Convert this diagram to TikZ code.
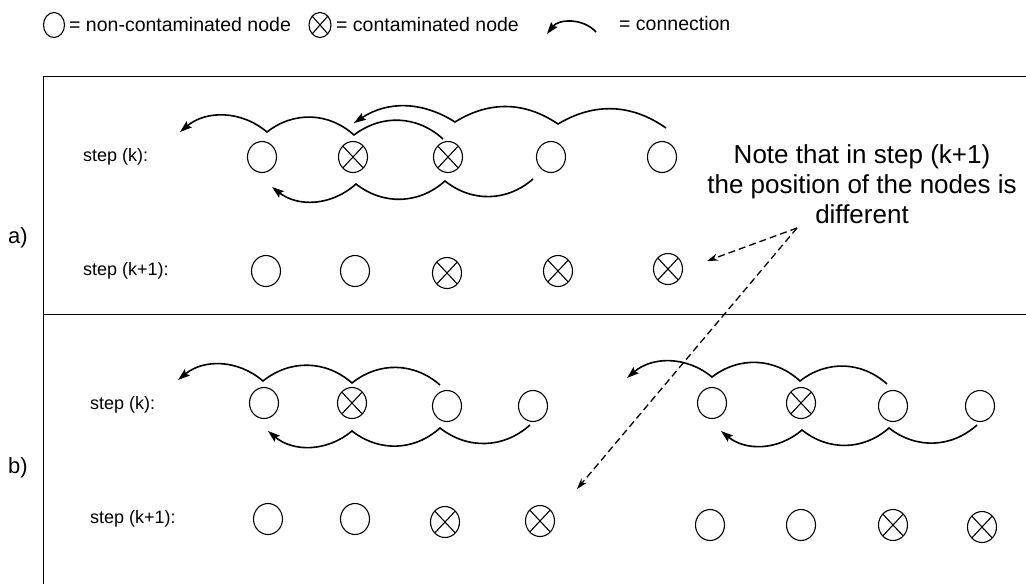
\documentclass[tikz,border=0pt]{standalone}
\usepackage{fontspec}
\setmainfont{Liberation Sans}
\usetikzlibrary{shapes.geometric, arrows.meta}

\begin{document}
\begin{tikzpicture}[x=1pt, y=-1pt,
        % Define styles for the two kinds of nodes
        clean/.style={draw, ellipse, line width=1.1pt, minimum width=29pt, minimum height=31pt, inner sep=0pt},
        infected/.style={clean, path picture={\draw[line width=1.1pt]
            (path picture bounding box.north west) -- (path picture bounding box.south east)
            (path picture bounding box.north east) -- (path picture bounding box.south west);}},
        % Connections and hints
        link/.style={line width=1.6pt, {Stealth[length=12pt, width=8pt, inset=2pt]}-},
        hint/.style={line width=1.3pt, dash pattern=on 7pt off 4pt, -{Stealth[length=11pt, width=7pt]}},
        lbl/.style={anchor=west, inner sep=0pt, font=\fontsize{18}{22}\selectfont},
        legtxt/.style={anchor=west, inner sep=0pt, font=\fontsize{19.5}{24}\selectfont}]

        \useasboundingbox (0,0) rectangle (1026,584);

        % 1. Legend
        \node[clean, minimum width=21pt, minimum height=25pt] (legclean) at (54,25) {};
        \node[legtxt] (legcleantxt) at (69,25) {= non-contaminated node};
        \node[infected, minimum width=22pt, minimum height=25pt] (leginf) at (320,25) {};
        \node[legtxt] (leginftxt) at (336,25) {= contaminated node};
        \coordinate (legS) at (547,34);
        \coordinate (legE) at (596,32);
        \draw[link] (legS) to[bend left=50] (legE);
        \node[legtxt] (leglinktxt) at (619,24) {= connection};

        % 2. Frame of the two cases
        \draw[line width=1pt] (1026,76) -- (43,76) -- (43,584);
        \draw[line width=1pt] (43,314) -- (1026,314);
        \node[anchor=west, inner sep=0pt, font=\fontsize{22}{26}\selectfont] (casea) at (8,238) {a)};
        \node[anchor=west, inner sep=0pt, font=\fontsize{22}{26}\selectfont] (caseb) at (8,468) {b)};

        % 3. Case a), step (k)
        \node[lbl] (ak) at (83,157) {step (k):};
        \node[clean] (A1) at (262,157) {};
        \node[infected] (A2) at (353,157) {};
        \node[infected] (A3) at (448,157) {};
        \node[clean] (A4) at (551,157) {};
        \node[clean] (A5) at (662,157) {};

        \coordinate (a1s) at (180,132);
        \coordinate (a1p) at (267,132);
        \coordinate (a1q) at (354,135);
        \coordinate (a1e) at (443,139);
        \draw[link] (a1s) to[bend left=40] (a1p) to[bend left=40] (a1q) to[bend left=40] (a1e);

        \coordinate (a2s) at (354,123);
        \coordinate (a2p) at (455,122);
        \coordinate (a2q) at (558,124);
        \coordinate (a2e) at (666,128);
        \draw[link] (a2s) to[bend left=33] (a2p) to[bend left=33] (a2q) to[bend left=33] (a2e);

        \coordinate (a3s) at (272,187);
        \coordinate (a3p) at (356,184);
        \coordinate (a3q) at (445,181);
        \coordinate (a3e) at (533,179);
        \draw[link] (a3s) to[bend right=40] (a3p) to[bend right=40] (a3q) to[bend right=40] (a3e);

        % 4. Case a), step (k+1)
        \node[lbl] (ak1) at (83,271) {step (k+1):};
        \node[clean] (B1) at (266,271) {};
        \node[clean] (B2) at (355,271) {};
        \node[infected] (B3) at (447,273) {};
        \node[infected] (B4) at (558,271) {};
        \node[infected] (B5) at (668,269) {};

        % 5. Case b), step (k)
        \node[lbl] (bk) at (90,405) {step (k):};
        \node[clean] (C1) at (264,403) {};
        \node[infected] (C2) at (352,403) {};
        \node[clean] (C3) at (447,406) {};
        \node[clean] (C4) at (533,406) {};
        \node[clean] (C5) at (712,403) {};
        \node[infected] (C6) at (801,403) {};
        \node[clean] (C7) at (893,406) {};
        \node[clean] (C8) at (980,406) {};

        \coordinate (b1s) at (178,380);
        \coordinate (b1p) at (263,381);
        \coordinate (b1q) at (352,383);
        \coordinate (b1e) at (440,385);
        \draw[link] (b1s) to[bend left=40] (b1p) to[bend left=40] (b1q) to[bend left=40] (b1e);

        \coordinate (b2s) at (268,431);
        \coordinate (b2p) at (352,431);
        \coordinate (b2q) at (440,428);
        \coordinate (b2e) at (530,425);
        \draw[link] (b2s) to[bend right=40] (b2p) to[bend right=40] (b2q) to[bend right=40] (b2e);

        \coordinate (b3s) at (627,378);
        \coordinate (b3p) at (712,377);
        \coordinate (b3q) at (800,381);
        \coordinate (b3e) at (887,384);
        \draw[link] (b3s) to[bend left=40] (b3p) to[bend left=40] (b3q) to[bend left=40] (b3e);

        \coordinate (b4s) at (721,431);
        \coordinate (b4p) at (802,430);
        \coordinate (b4q) at (889,428);
        \coordinate (b4e) at (977,425);
        \draw[link] (b4s) to[bend right=40] (b4p) to[bend right=40] (b4q) to[bend right=40] (b4e);

        % 6. Case b), step (k+1)
        \node[lbl] (bk1) at (90,519) {step (k+1):};
        \node[clean] (D1) at (268,519) {};
        \node[clean] (D2) at (355,519) {};
        \node[infected] (D3) at (445,522) {};
        \node[infected] (D4) at (540,521) {};
        \node[clean] (D5) at (710,525) {};
        \node[clean] (D6) at (801,525) {};
        \node[infected] (D7) at (893,525) {};
        \node[infected] (D8) at (982,527) {};

        % 7. Note with its two dashed arrows
        \node[align=center, inner sep=0pt, font=\fontsize{26}{30}\selectfont] (note) at (862,184)
            {Note that in step (k+1)\\the position of the nodes is\\different};
        \coordinate (noteS) at (797,228);
        \coordinate (tipA) at (707,261);
        \coordinate (tipB) at (577,489);
        \draw[hint] (noteS) -- (tipA);
        \draw[hint] (noteS) -- (tipB);

    \end{tikzpicture}
\end{document}
